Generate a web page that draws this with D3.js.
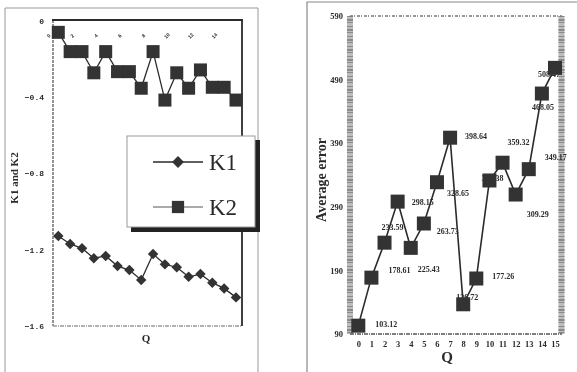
<!DOCTYPE html>
<html>
<head>
<meta charset="utf-8">
<script src="https://cdn.jsdelivr.net/npm/d3@7"></script>
<style>
  body { margin: 0; background: #fff; }
  svg { display: block; will-change: transform; }
</style>
</head>
<body>
<svg id="chart" width="577" height="372"></svg>
<script>
// values
var qs = d3.range(0, 16);
var k1 = [-1.128, -1.170, -1.193, -1.245, -1.233, -1.286, -1.307, -1.359,
          -1.223, -1.277, -1.292, -1.342, -1.328, -1.373, -1.403, -1.450];
var k2 = [-0.061, -0.162, -0.162, -0.273, -0.162, -0.267, -0.267, -0.354,
          -0.162, -0.416, -0.273, -0.354, -0.258, -0.349, -0.349, -0.416];
var avgErr = [103.12, 178.61, 233.59, 298.15, 225.43, 263.73, 328.65, 398.64,
              136.72, 177.26, 331.38, 359.32, 309.29, 349.17, 468.05, 508.47];
var kTicks = [0, -0.4, -0.8, -1.2, -1.6];
var topTicks = [0, 2, 4, 6, 8, 10, 12, 14];
var errTicks = [90, 190, 290, 390, 490, 590];

var ink = "#2b2b2b";
var svg = d3.select("#chart");

// outer frames of the two panels
svg.append("path").attr("d", "M5,372V8H258V372")
    .attr("fill", "none").attr("stroke", "#999").attr("stroke-width", 1);
svg.append("path").attr("d", "M307,372V2H577")
    .attr("fill", "none").attr("stroke", "#888").attr("stroke-width", 1.2);

//
// left panel: K1 and K2
//
var xL = d3.scaleLinear().domain([0, 15]).range([58.3, 236]);
var yL = d3.scaleLinear().domain([0, -1.6]).range([20.7, 326]);

var left = svg.append("g");
left.append("line").attr("x1", 53).attr("x2", 53).attr("y1", 20).attr("y2", 326)
    .attr("stroke", "#888").attr("stroke-width", 1.8).attr("stroke-dasharray", "3,1");
left.append("line").attr("x1", 53).attr("x2", 242).attr("y1", 326).attr("y2", 326)
    .attr("stroke", "#999").attr("stroke-width", 1.5).attr("stroke-dasharray", "4,1,1,1");
left.append("line").attr("x1", 52).attr("x2", 243).attr("y1", 20).attr("y2", 20)
    .attr("stroke", ink).attr("stroke-width", 2.2);
left.append("line").attr("x1", 242).attr("x2", 242).attr("y1", 20).attr("y2", 326)
    .attr("stroke", ink).attr("stroke-width", 1.8);

var yAxL = left.append("g").attr("transform", "translate(47,0)")
    .call(d3.axisLeft(yL).tickValues(kTicks).tickSize(0)
        .tickFormat(function(d){ return d === 0 ? "0" : d3.format(".1f")(d); }));
yAxL.select(".domain").remove();
yAxL.selectAll("text").attr("font-family", "Liberation Mono").attr("font-weight", "bold")
    .attr("font-size", 8).attr("fill", ink).attr("dx", 0);

var topAx = left.append("g").attr("transform", "translate(-10,36)")
    .call(d3.axisBottom(xL).tickValues(topTicks).tickSize(0));
topAx.select(".domain").remove();
topAx.selectAll("text").attr("font-family", "Liberation Sans").attr("font-weight", "bold")
    .attr("font-size", 5).attr("fill", ink).attr("y", 0).attr("dy", "0.3em")
    .attr("transform", "rotate(-45)");

left.append("text").attr("transform", "translate(18,178) rotate(-90)")
    .attr("text-anchor", "middle").attr("font-family", "Liberation Serif")
    .attr("font-weight", "bold").attr("font-size", 11).attr("fill", ink)
    .text("K1 and K2");
left.append("text").attr("x", 146).attr("y", 342).attr("text-anchor", "middle")
    .attr("font-family", "Liberation Serif").attr("font-weight", "bold")
    .attr("font-size", 11).attr("fill", ink).text("Q");

var lineL = function(vals) {
    return d3.line().x(function(d, i){ return xL(qs[i]); }).y(function(d){ return yL(d); })(vals);
};
left.append("path").attr("d", lineL(k1)).attr("fill", "none").attr("stroke", ink).attr("stroke-width", 1.3);
left.append("path").attr("d", lineL(k2)).attr("fill", "none").attr("stroke", ink).attr("stroke-width", 1.3);

left.selectAll(".dia").data(k1).enter().append("path")
    .attr("d", d3.symbol().type(d3.symbolDiamond2).size(70))
    .attr("transform", function(d, i){ return "translate(" + xL(qs[i]) + "," + yL(d) + ")"; })
    .attr("fill", "#333");
left.selectAll(".sq").data(k2).enter().append("rect")
    .attr("x", function(d, i){ return xL(qs[i]) - 6.5; })
    .attr("y", function(d){ return yL(d) - 6.5; })
    .attr("width", 13).attr("height", 13).attr("fill", "#333");

// legend box with its drop shadow
var leg = svg.append("g");
leg.append("rect").attr("x", 131).attr("y", 140).attr("width", 129).attr("height", 92).attr("fill", "#222");
leg.append("rect").attr("x", 127).attr("y", 136).attr("width", 128).attr("height", 91)
    .attr("fill", "#fff").attr("stroke", "#999").attr("stroke-width", 1);
[["K1", d3.symbolDiamond2, 162], ["K2", d3.symbolSquare, 207]].forEach(function(e) {
    leg.append("line").attr("x1", 153).attr("x2", 203).attr("y1", e[2]).attr("y2", e[2])
        .attr("stroke", ink).attr("stroke-width", e[0] === "K1" ? 1.4 : 0.8);
    leg.append("path").attr("d", d3.symbol().type(e[1]).size(e[0] === "K1" ? 90 : 150))
        .attr("transform", "translate(178," + e[2] + ")").attr("fill", "#333");
    leg.append("text").attr("x", 209).attr("y", e[2] + 8).attr("font-family", "Liberation Serif")
        .attr("font-size", 23).attr("fill", ink).text(e[0]);
});

//
// right panel: average error
//
var xR = d3.scaleLinear().domain([0, 15]).range([358.3, 555]);
var yR = d3.scaleLinear().domain([90, 590]).range([334, 16]);

var right = svg.append("g");
[350, 561.5].forEach(function(x) {
    right.append("line").attr("x1", x).attr("x2", x).attr("y1", 16).attr("y2", 334)
        .attr("stroke", "#bdbdbd").attr("stroke-width", 6);
    right.append("line").attr("x1", x).attr("x2", x).attr("y1", 16).attr("y2", 334)
        .attr("stroke", "#8a8a8a").attr("stroke-width", 6).attr("stroke-dasharray", "1,2,2,1,1,3");
});
right.append("line").attr("x1", 350).attr("x2", 562).attr("y1", 16).attr("y2", 16)
    .attr("stroke", "#777").attr("stroke-width", 1.5).attr("stroke-dasharray", "3,1,1,2");
right.append("line").attr("x1", 350).attr("x2", 562).attr("y1", 334).attr("y2", 334)
    .attr("stroke", "#555").attr("stroke-width", 1.5).attr("stroke-dasharray", "4,1,1,1");

var yAxR = right.append("g").attr("transform", "translate(343,0)")
    .call(d3.axisLeft(yR).tickValues(errTicks).tickSize(0));
yAxR.select(".domain").remove();
yAxR.selectAll("text").attr("font-family", "Liberation Serif").attr("font-weight", "bold")
    .attr("font-size", 8.5).attr("fill", ink).attr("x", 0);

var xAxR = right.append("g").attr("transform", "translate(0,341)")
    .call(d3.axisBottom(xR).tickValues(qs).tickSize(0));
xAxR.select(".domain").remove();
xAxR.selectAll("text").attr("font-family", "Liberation Serif").attr("font-weight", "bold")
    .attr("font-size", 8.5).attr("fill", ink).attr("y", 0).attr("dy", "0.71em");

right.append("text").attr("transform", "translate(326,180) rotate(-90)")
    .attr("text-anchor", "middle").attr("font-family", "Liberation Serif")
    .attr("font-weight", "bold").attr("font-size", 14).attr("fill", ink)
    .text("Average error");
right.append("text").attr("x", 447).attr("y", 362).attr("text-anchor", "middle")
    .attr("font-family", "Liberation Serif").attr("font-weight", "bold")
    .attr("font-size", 15).attr("fill", ink).text("Q");

// value labels sit where the scan puts them, relative to each point
var labelOff = [[17, 1], [17, -5], [-3, -13], [14, 3], [7, 24], [13, 10], [10, 14], [15, 1],
                [-7, -4], [16, 0], [-8, 1], [5, -18], [11, 22], [16, -9], [-10, 16], [-17, 9]];
right.selectAll(".lbl").data(avgErr).enter().append("text")
    .attr("x", function(d, i){ return xR(qs[i]) + labelOff[i][0]; })
    .attr("y", function(d, i){ return yR(d) + labelOff[i][1]; })
    .attr("font-family", "Liberation Serif").attr("font-weight", "bold")
    .attr("font-size", 8).attr("fill", ink)
    .text(function(d){ return d3.format(".2f")(d); });

right.append("path")
    .attr("d", d3.line().x(function(d, i){ return xR(qs[i]); }).y(function(d){ return yR(d); })(avgErr))
    .attr("fill", "none").attr("stroke", ink).attr("stroke-width", 1.6);
right.selectAll(".sq").data(avgErr).enter().append("rect")
    .attr("x", function(d, i){ return xR(qs[i]) - 7; })
    .attr("y", function(d){ return yR(d) - 7; })
    .attr("width", 14).attr("height", 14).attr("fill", "#333");
</script>
</body>
</html>
